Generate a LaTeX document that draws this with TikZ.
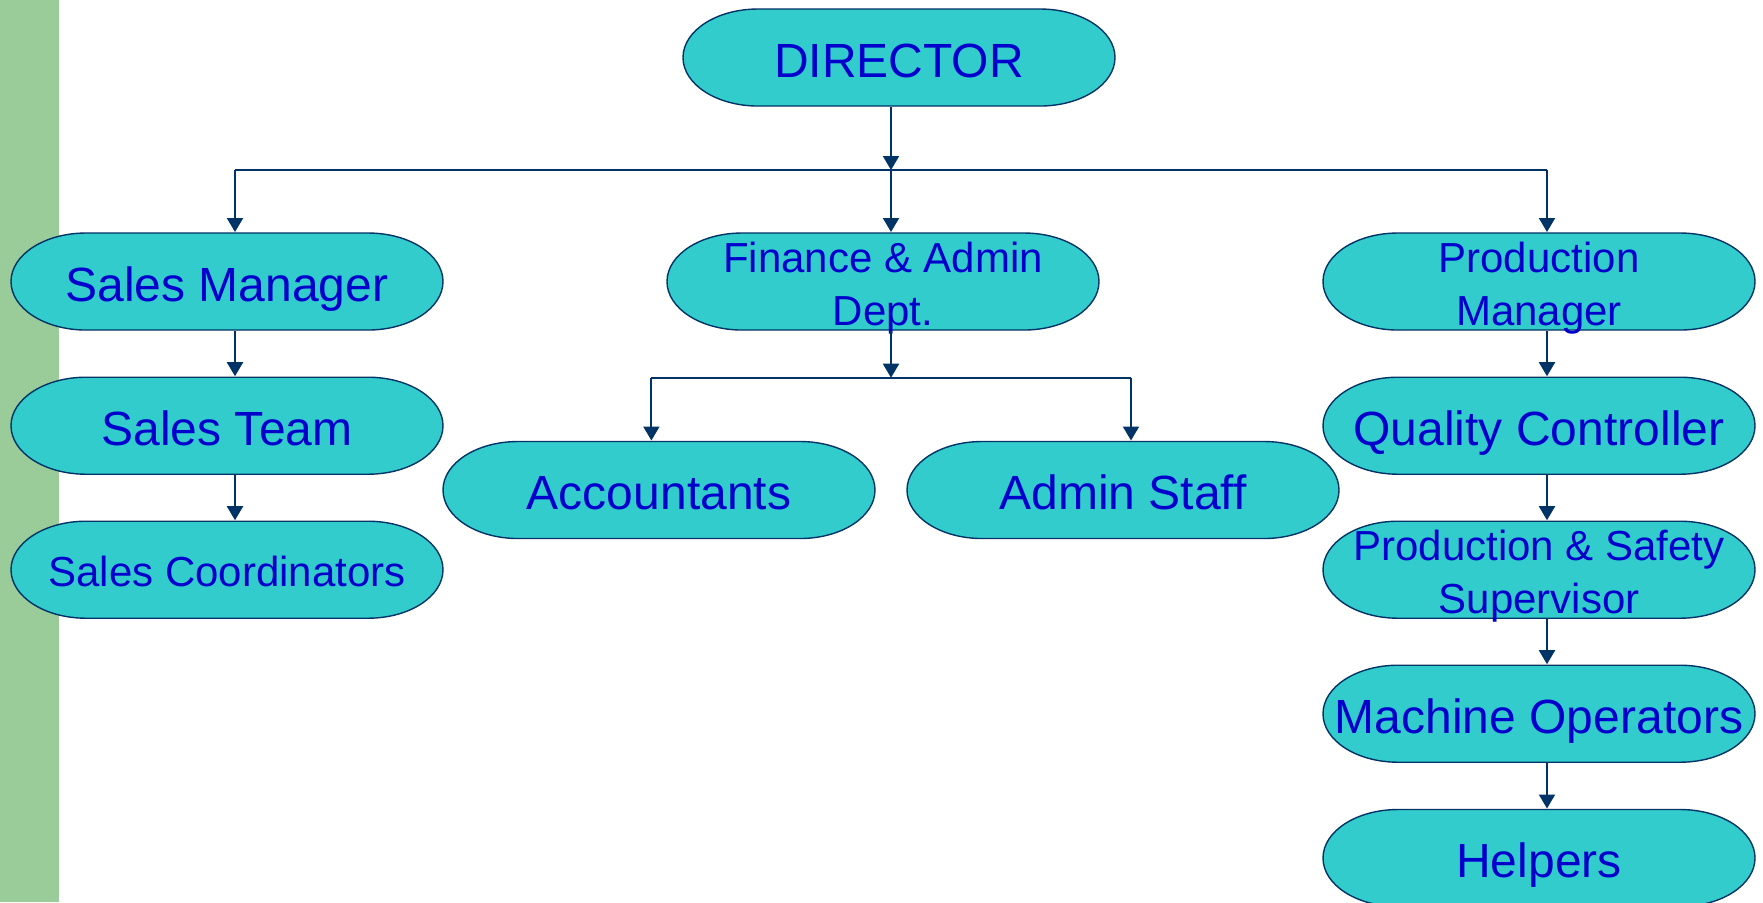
\documentclass[tikz,border=0pt]{standalone}
\usepackage{fontspec}
\setmainfont{Liberation Sans}
\usepackage{tikz}
\usetikzlibrary{arrows.meta}
\definecolor{barGreen}{HTML}{99CC99}
\definecolor{postFill}{HTML}{33CCCC}
\definecolor{postText}{HTML}{0000CC}
\definecolor{lineNavy}{HTML}{003366}
\def\bigtext{\fontsize{13.66pt}{16pt}\selectfont}
\def\smalltext{\fontsize{11.95pt}{15pt}\selectfont}
\tikzset{
  post/.style={minimum width=4.34cm, minimum height=0.99cm, inner sep=0pt, outer sep=0pt,
    text=postText, align=center, font=\bigtext, text height=0.394cm, text depth=0pt,
    path picture={
      \draw[line width=0.14mm, draw=lineNavy, fill=postFill]
        ([xshift=0.76cm,yshift=-0.01cm]path picture bounding box.north west)
        -- ([xshift=-0.76cm,yshift=-0.01cm]path picture bounding box.north east)
        arc[start angle=90, end angle=-90, x radius=0.75cm, y radius=0.485cm]
        -- ([xshift=0.76cm,yshift=0.01cm]path picture bounding box.south west)
        arc[start angle=270, end angle=90, x radius=0.75cm, y radius=0.485cm]
        -- cycle;
    }},
  small post/.style={post, font=\smalltext, text height=0.344cm},
  two line post/.style={post, font=\smalltext, text height=0.87cm},
  link/.style={line width=0.2mm, draw=lineNavy},
  arr/.style={link, -{Triangle[width=1.6mm, length=1.4mm]}, lineNavy}
}

\begin{document}
\begin{tikzpicture}
		%%%%% START %%%%%
		
		\useasboundingbox (0, 0) rectangle (17.63, -9.02);
		\clip (0, 0) rectangle (17.63, -9.02);
		\fill[barGreen] (0, 0) rectangle (0.59, -9.02);
		
		\node[post] (dir) at (8.99, -0.575) {DIRECTOR};
		
		\node[post] (sm) at (2.27, -2.815) {Sales Manager};
		\node[two line post] (fin) at (8.83, -2.815) {Finance \& Admin\\Dept.};
		\node[two line post] (pm) at (15.39, -2.815) {Production\\Manager};
		
		\node[post] (st) at (2.27, -4.257) {Sales Team};
		\node[small post] (sc) at (2.27, -5.697) {Sales Coordinators};
		
		\node[post] (acc) at (6.59, -4.90) {Accountants};
		\node[post] (adm) at (11.23, -4.90) {Admin Staff};
		
		\node[post] (qc) at (15.39, -4.257) {Quality Controller};
		\node[two line post] (ps) at (15.39, -5.697) {Production \& Safety\\Supervisor};
		\node[post] (mo) at (15.39, -7.137) {Machine Operators};
		\node[post] (hlp) at (15.39, -8.58) {Helpers};
		
		% top bus
		\coordinate (busmid) at (8.91, -1.70);
		\coordinate (busl) at (2.35, -1.70);
		\coordinate (busr) at (15.47, -1.70);
		\draw[arr] (dir.south -| busmid) -- (busmid);
		\draw[link] (busl) -- (busr);
		\draw[arr] (busl) -- (busl |- sm.north);
		\draw[arr] (busmid) -- (busmid |- fin.north);
		\draw[arr] (busr) -- (busr |- pm.north);
		
		% finance bus
		\coordinate (finmid) at (8.91, -3.777);
		\coordinate (finl) at (6.514, -3.777);
		\coordinate (finr) at (11.31, -3.777);
		\draw[arr] (fin.south -| finmid) -- (finmid);
		\draw[link] (finl) -- (finr);
		\draw[arr] (finl) -- (finl |- acc.north);
		\draw[arr] (finr) -- (finr |- adm.north);
		
		\foreach \a/\b in {sm/st, st/sc, pm/qc, qc/ps, ps/mo, mo/hlp}
			\draw[arr] ([xshift=0.08cm]\a.south) -- ([xshift=0.08cm]\b.north);
		
		%%%%% END %%%%%
	\end{tikzpicture}
\end{document}
